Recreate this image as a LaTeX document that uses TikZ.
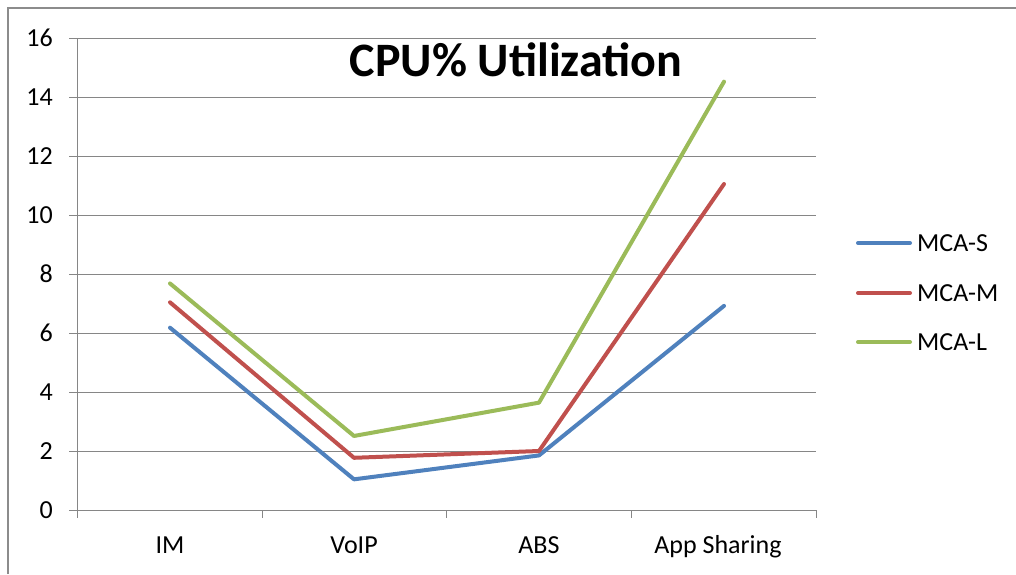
\documentclass[tikz,border=0pt]{standalone}
\usepackage{fontspec}
\setmainfont{Carlito}
\usepackage{tikz}
\usetikzlibrary{calc}
\usepackage{xcolor}
\definecolor{seriesS}{HTML}{4F81BD}
\definecolor{seriesM}{HTML}{C0504D}
\definecolor{seriesL}{HTML}{9BBB59}
\definecolor{gridgray}{HTML}{868686}
\definecolor{framegray}{HTML}{8C8C8C}

\begin{document}
\begin{tikzpicture}[x = 1pt, y = -1pt]
    \tikzstyle{grid}=[draw,line width = 1pt,gridgray]
    \tikzstyle{frame}=[draw,line width = 2pt,framegray]
    \tikzstyle{series}=[draw,line width = 4pt,line join=round,line cap=round]
    \tikzstyle{ticklabel}=[font=\fontsize{26}{30}\selectfont,inner sep=0pt]
    \useasboundingbox (0,0) rectangle (1016,574);
    \fill[white] (0,0) rectangle (1016,574);
    \draw[frame] (8,574) -- (8,8) -- (1016,8);
    % gridlines and value labels
    \foreach \v in {0,2,...,16} {
        \draw[grid] (69, {510-29.5*\v}) -- (816, {510-29.5*\v});
        \node[ticklabel,anchor=east] (y\v) at (53, {510-29.5*\v}) {\v};
    }
    \draw[grid] (77,38) -- (77,518);
    \foreach \x in {262,446,631,816} {
        \draw[grid] (\x,510) -- (\x,518);
    }
    % category labels
    \node[ticklabel,anchor=base] (im) at (170,553) {IM};
    \node[ticklabel,anchor=base] (voip) at (354,553) {VoIP};
    \node[ticklabel,anchor=base] (abs) at (539,553) {ABS};
    \node[ticklabel,anchor=base] (app) at (718,553) {App Sharing};
    % title
    \node[font=\fontsize{48}{54}\selectfont\bfseries,inner sep=0pt,anchor=base] (title) at (516,76) {CPU\% Utilization};
    % data points
    \coordinate (s1) at (170, {510-29.5*6.18});
    \coordinate (s2) at (354, {510-29.5*1.04});
    \coordinate (s3) at (539, {510-29.5*1.85});
    \coordinate (s4) at (724, {510-29.5*6.92});
    \coordinate (m1) at (170, {510-29.5*7.04});
    \coordinate (m2) at (354, {510-29.5*1.77});
    \coordinate (m3) at (539, {510-29.5*2.0});
    \coordinate (m4) at (724, {510-29.5*11.05});
    \coordinate (l1) at (170, {510-29.5*7.68});
    \coordinate (l2) at (354, {510-29.5*2.51});
    \coordinate (l3) at (539, {510-29.5*3.64});
    \coordinate (l4) at (724, {510-29.5*14.52});
    \draw[series,seriesS] (s1) -- (s2) -- (s3) -- (s4);
    \draw[series,seriesM] (m1) -- (m2) -- (m3) -- (m4);
    \draw[series,seriesL] (l1) -- (l2) -- (l3) -- (l4);
    % legend
    \coordinate (ks) at (858,243);
    \coordinate (km) at (858,293);
    \coordinate (kl) at (858,342);
    \coordinate (ks') at (910,243);
    \coordinate (km') at (910,293);
    \coordinate (kl') at (910,342);
    \node[ticklabel,anchor=west] (ls) at (917,243) {MCA-S};
    \node[ticklabel,anchor=west] (lm) at (917,293) {MCA-M};
    \node[ticklabel,anchor=west] (ll) at (917,342) {MCA-L};
    \draw[series,seriesS] (ks) -- (ks');
    \draw[series,seriesM] (km) -- (km');
    \draw[series,seriesL] (kl) -- (kl');
\end{tikzpicture}
\end{document}
